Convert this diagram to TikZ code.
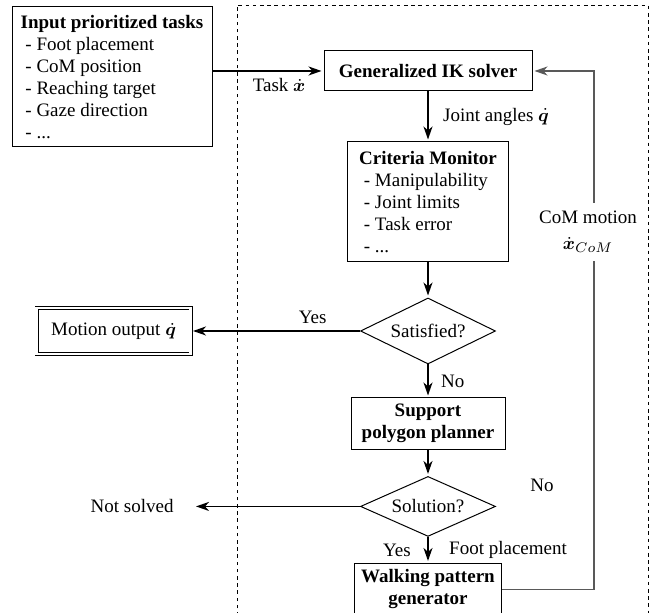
\documentclass[tikz,border=0pt]{standalone}
\usepackage{fontspec}
\setmainfont{Liberation Serif}
\usepackage{amsmath}
\usepackage{bm}
\usepackage{tikz}
\usetikzlibrary{arrows.meta,positioning,shapes.geometric}
\newcommand{\vdot}[1]{\dot{\bm{#1}}}

\begin{document}
\begin{tikzpicture}[x=0.5pt,y=-0.5pt,>={Stealth[length=6.5pt,width=4.5pt,inset=2pt]},shorten >=1pt,auto,
  block/.style={draw,line width=0.5pt,font=\bfseries,align=center,minimum width=#1},
  listbox/.style={draw,line width=0.5pt,align=left,minimum width=#1},
  cond/.style={draw,line width=0.5pt,diamond,aspect=2,inner sep=1pt,minimum width=67.5pt},
  outbox/.style={draw,double,double distance=1.2pt,line width=0.4pt,minimum width=77pt,minimum height=23pt},
  flow/.style={->,line width=0.9pt},
  fbline/.style={->,line width=0.6pt,black!65},
  frame/.style={dash pattern=on 1.8pt off 1.8pt,line width=0.4pt}]
\fontsize{9.5}{11}\selectfont
\useasboundingbox (0,0) rectangle (660,613);

\draw[frame] (237,630) |- (648,5) -- (648,630);

\node[block=104pt,minimum height=20pt] (ik) at (428,71) {Generalized IK solver};
\node[listbox=80.5pt,minimum height=60pt] (crit) [below=25pt of ik]
  {\textbf{Criteria Monitor}\\~- Manipulability\\~- Joint limits\\~- Task error\\~- ...};
\node[cond,minimum height=33pt] (sat) [below=17.5pt of crit] {Satisfied?};
\node[block=77pt,minimum height=25.5pt] (supp) [below=16.5pt of sat] {Support\\polygon planner};
\node[cond,minimum height=30pt] (sol) [below=13pt of supp] {Solution?};
\node[block=73.5pt,minimum height=25pt] (walk) [below=13pt of sol] {Walking pattern\\generator};

\node[listbox=100pt,minimum height=70pt] (input) at (112,77)
  {\textbf{Input prioritized tasks}\\~- Foot placement\\~- CoM position\\~- Reaching target\\~- Gaze direction\\~- ...};
\node[outbox] (motion) [left=84.5pt of sat] {Motion output $\vdot{q}$};
\node[inner xsep=10pt] (fail) [left=83pt of sol] {Not solved};

\draw[flow] (input.east |- ik.west) -- node[below,pos=0.6] {Task $\vdot{x}$} (ik.west);
\draw[flow] (ik) -- node[right=4pt] {Joint angles $\vdot{q}$} (crit);
\draw[flow] (crit) -- (sat);
\draw[flow] (sat) -- node[pos=0.28,above] {Yes} (motion);
\draw[flow] (sat) -- node[right=3pt] {No} (supp);
\draw[flow] (supp) -- (sol);
\draw[flow] (sol) -- (fail);
\draw[flow] (sol) -- node[left=5pt] {Yes} node[right=7pt] {Foot placement} (walk);

% feedback of the CoM motion
\coordinate (turn) at (594,71);
\draw[fbline] (walk.east) -| (turn) -- (ik.east);
\node[fill=white,align=center,inner xsep=1pt,inner ysep=4pt] (comlbl) at (588,232)
  {CoM motion\\[2pt]$\vdot{x}_{CoM}$};
\node (nolbl) at (542,485) {No};
\end{tikzpicture}
\end{document}
